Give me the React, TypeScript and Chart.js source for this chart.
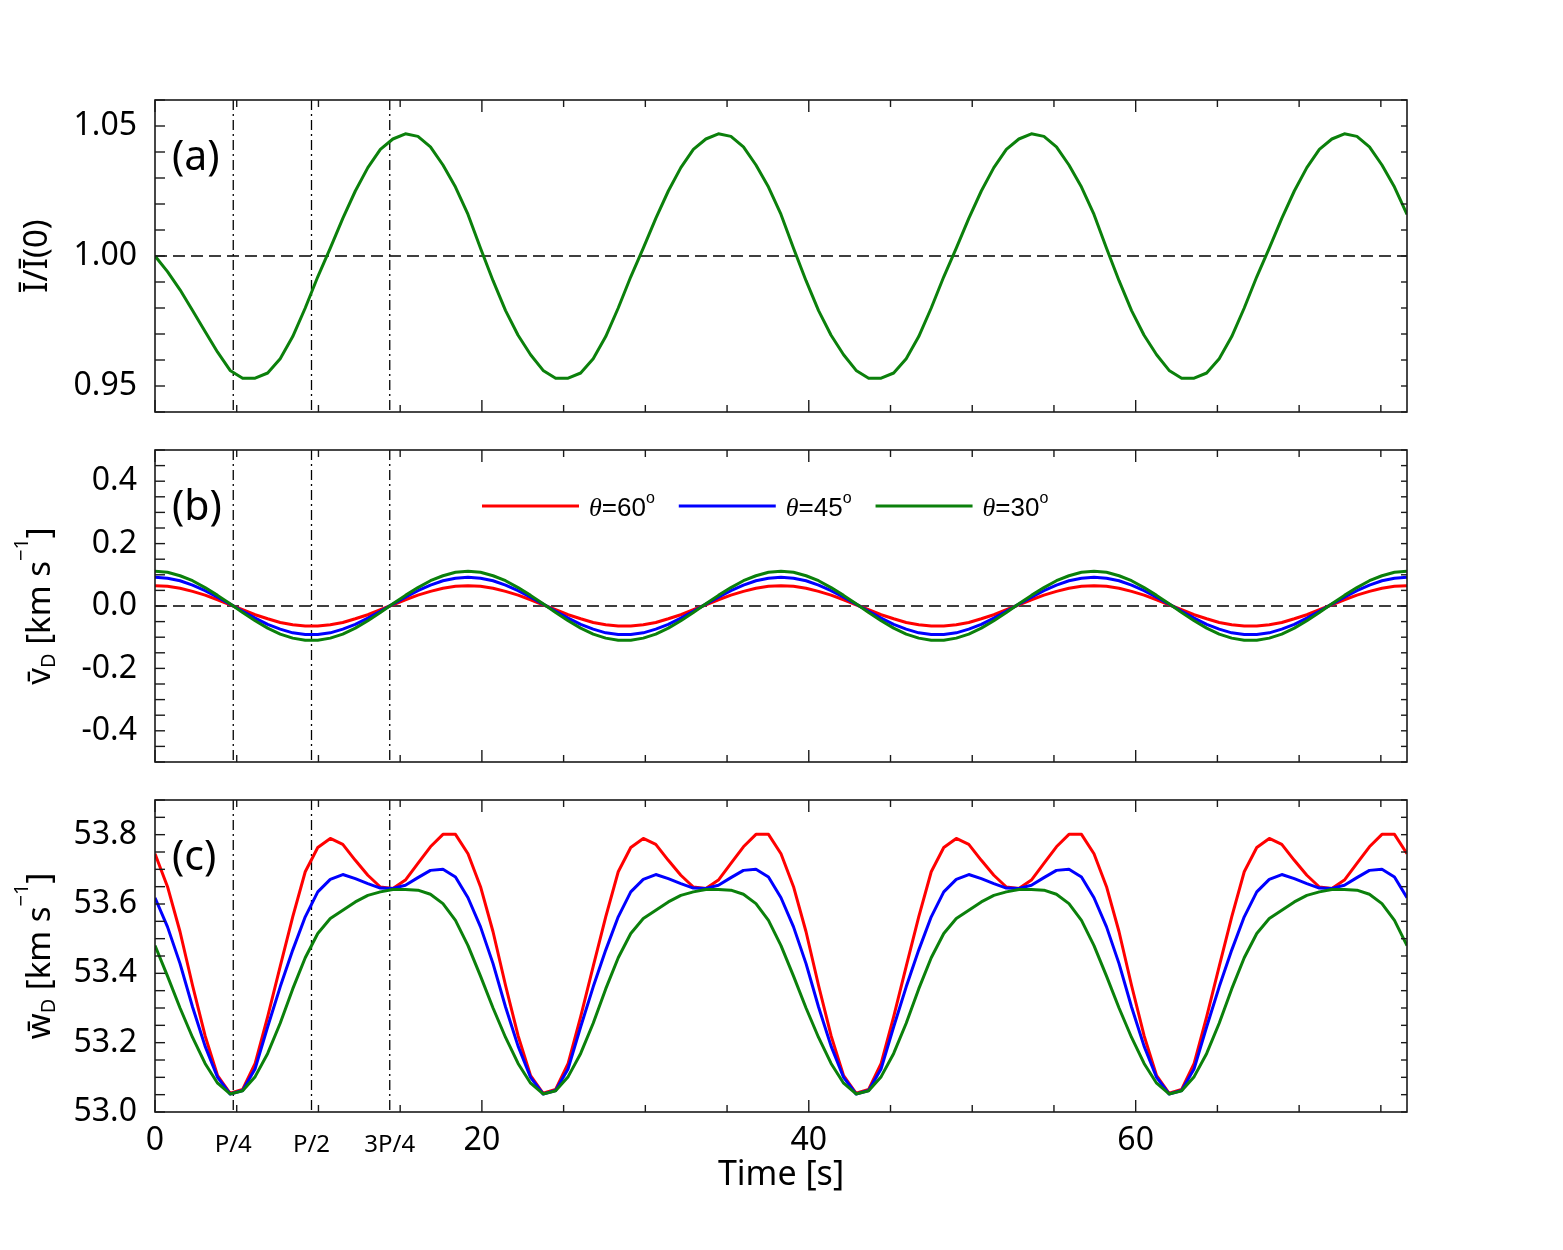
import { useEffect, useRef } from 'react';
import { Chart, registerables } from 'chart.js';
import type { Plugin } from 'chart.js';

Chart.register(...registerables);

// Oscillation period P [s]; the simulation output is sampled 25 times per period
const PERIOD = 19.15;
const SAMPLES_PER_PERIOD = 25;
const T_END = 4 * PERIOD;

// (a) normalised intensity  Ī/Ī(0)
const intensityRatio = [
  1.000, 0.994, 0.987, 0.979, 0.971, 0.963, 0.956, 0.953, 0.953, 0.955, 0.9605, 0.969, 0.980, 0.992, 1.003, 1.0145, 1.025, 1.034, 1.041, 1.045, 1.047, 1.046, 1.042, 1.035, 1.0265,
  1.016, 1.003, 0.9905, 0.979, 0.9695, 0.962, 0.956, 0.953, 0.953, 0.955, 0.9605, 0.969, 0.980, 0.992, 1.003, 1.0145, 1.025, 1.034, 1.041, 1.045, 1.047, 1.046, 1.042, 1.035, 1.0265,
  1.016, 1.003, 0.9905, 0.979, 0.9695, 0.962, 0.956, 0.953, 0.953, 0.955, 0.9605, 0.969, 0.980, 0.992, 1.003, 1.0145, 1.025, 1.034, 1.041, 1.045, 1.047, 1.046, 1.042, 1.035, 1.0265,
  1.016, 1.003, 0.9905, 0.979, 0.9695, 0.962, 0.956, 0.953, 0.953, 0.955, 0.9605, 0.969, 0.980, 0.992, 1.003, 1.0145, 1.025, 1.034, 1.041, 1.045, 1.047, 1.046, 1.042, 1.035, 1.0265,
  1.016,
];

// (b) Doppler velocity [km/s] for the three viewing angles
const vDoppler60 = [
  0.065, 0.063, 0.057, 0.047, 0.035, 0.020, 0.004, -0.012, -0.028, -0.041, -0.053, -0.060, -0.064, -0.064, -0.060, -0.053, -0.041, -0.028, -0.012, 0.004, 0.020, 0.035, 0.047, 0.057, 0.063,
  0.065, 0.063, 0.057, 0.047, 0.035, 0.020, 0.004, -0.012, -0.028, -0.041, -0.053, -0.060, -0.064, -0.064, -0.060, -0.053, -0.041, -0.028, -0.012, 0.004, 0.020, 0.035, 0.047, 0.057, 0.063,
  0.065, 0.063, 0.057, 0.047, 0.035, 0.020, 0.004, -0.012, -0.028, -0.041, -0.053, -0.060, -0.064, -0.064, -0.060, -0.053, -0.041, -0.028, -0.012, 0.004, 0.020, 0.035, 0.047, 0.057, 0.063,
  0.065, 0.063, 0.057, 0.047, 0.035, 0.020, 0.004, -0.012, -0.028, -0.041, -0.053, -0.060, -0.064, -0.064, -0.060, -0.053, -0.041, -0.028, -0.012, 0.004, 0.020, 0.035, 0.047, 0.057, 0.063,
  0.065,
];
const vDoppler45 = [
  0.092, 0.089, 0.081, 0.067, 0.049, 0.028, 0.006, -0.017, -0.039, -0.059, -0.074, -0.086, -0.091, -0.091, -0.086, -0.074, -0.059, -0.039, -0.017, 0.006, 0.028, 0.049, 0.067, 0.081, 0.089,
  0.092, 0.089, 0.081, 0.067, 0.049, 0.028, 0.006, -0.017, -0.039, -0.059, -0.074, -0.086, -0.091, -0.091, -0.086, -0.074, -0.059, -0.039, -0.017, 0.006, 0.028, 0.049, 0.067, 0.081, 0.089,
  0.092, 0.089, 0.081, 0.067, 0.049, 0.028, 0.006, -0.017, -0.039, -0.059, -0.074, -0.086, -0.091, -0.091, -0.086, -0.074, -0.059, -0.039, -0.017, 0.006, 0.028, 0.049, 0.067, 0.081, 0.089,
  0.092, 0.089, 0.081, 0.067, 0.049, 0.028, 0.006, -0.017, -0.039, -0.059, -0.074, -0.086, -0.091, -0.091, -0.086, -0.074, -0.059, -0.039, -0.017, 0.006, 0.028, 0.049, 0.067, 0.081, 0.089,
  0.092,
];
const vDoppler30 = [
  0.111, 0.108, 0.097, 0.081, 0.059, 0.034, 0.007, -0.021, -0.047, -0.071, -0.090, -0.103, -0.110, -0.110, -0.103, -0.090, -0.071, -0.047, -0.021, 0.007, 0.034, 0.059, 0.081, 0.097, 0.108,
  0.111, 0.108, 0.097, 0.081, 0.059, 0.034, 0.007, -0.021, -0.047, -0.071, -0.090, -0.103, -0.110, -0.110, -0.103, -0.090, -0.071, -0.047, -0.021, 0.007, 0.034, 0.059, 0.081, 0.097, 0.108,
  0.111, 0.108, 0.097, 0.081, 0.059, 0.034, 0.007, -0.021, -0.047, -0.071, -0.090, -0.103, -0.110, -0.110, -0.103, -0.090, -0.071, -0.047, -0.021, 0.007, 0.034, 0.059, 0.081, 0.097, 0.108,
  0.111, 0.108, 0.097, 0.081, 0.059, 0.034, 0.007, -0.021, -0.047, -0.071, -0.090, -0.103, -0.110, -0.110, -0.103, -0.090, -0.071, -0.047, -0.021, 0.007, 0.034, 0.059, 0.081, 0.097, 0.108,
  0.111,
];

// (c) Doppler width [km/s] for the three viewing angles
const wDoppler60 = [
  53.745, 53.650, 53.520, 53.365, 53.220, 53.105, 53.054, 53.065, 53.140, 53.275, 53.420, 53.563, 53.693, 53.763, 53.789, 53.772, 53.726, 53.683, 53.649, 53.645, 53.669, 53.717, 53.765, 53.801, 53.801,
  53.745, 53.650, 53.520, 53.365, 53.220, 53.105, 53.054, 53.065, 53.140, 53.275, 53.420, 53.563, 53.693, 53.763, 53.789, 53.772, 53.726, 53.683, 53.649, 53.645, 53.669, 53.717, 53.765, 53.801, 53.801,
  53.745, 53.650, 53.520, 53.365, 53.220, 53.105, 53.054, 53.065, 53.140, 53.275, 53.420, 53.563, 53.693, 53.763, 53.789, 53.772, 53.726, 53.683, 53.649, 53.645, 53.669, 53.717, 53.765, 53.801, 53.801,
  53.745, 53.650, 53.520, 53.365, 53.220, 53.105, 53.054, 53.065, 53.140, 53.275, 53.420, 53.563, 53.693, 53.763, 53.789, 53.772, 53.726, 53.683, 53.649, 53.645, 53.669, 53.717, 53.765, 53.801, 53.801,
  53.745,
];
const wDoppler45 = [
  53.618, 53.534, 53.428, 53.303, 53.190, 53.100, 53.052, 53.062, 53.125, 53.246, 53.361, 53.467, 53.563, 53.635, 53.671, 53.685, 53.673, 53.659, 53.646, 53.645, 53.654, 53.676, 53.697, 53.700, 53.678,
  53.618, 53.534, 53.428, 53.303, 53.190, 53.100, 53.052, 53.062, 53.125, 53.246, 53.361, 53.467, 53.563, 53.635, 53.671, 53.685, 53.673, 53.659, 53.646, 53.645, 53.654, 53.676, 53.697, 53.700, 53.678,
  53.618, 53.534, 53.428, 53.303, 53.190, 53.100, 53.052, 53.062, 53.125, 53.246, 53.361, 53.467, 53.563, 53.635, 53.671, 53.685, 53.673, 53.659, 53.646, 53.645, 53.654, 53.676, 53.697, 53.700, 53.678,
  53.618, 53.534, 53.428, 53.303, 53.190, 53.100, 53.052, 53.062, 53.125, 53.246, 53.361, 53.467, 53.563, 53.635, 53.671, 53.685, 53.673, 53.659, 53.646, 53.645, 53.654, 53.676, 53.697, 53.700, 53.678,
  53.618,
];
const wDoppler30 = [
  53.480, 53.392, 53.300, 53.215, 53.140, 53.083, 53.052, 53.061, 53.102, 53.169, 53.256, 53.355, 53.445, 53.515, 53.558, 53.582, 53.606, 53.625, 53.635, 53.642, 53.642, 53.640, 53.628, 53.601, 53.553,
  53.480, 53.392, 53.300, 53.215, 53.140, 53.083, 53.052, 53.061, 53.102, 53.169, 53.256, 53.355, 53.445, 53.515, 53.558, 53.582, 53.606, 53.625, 53.635, 53.642, 53.642, 53.640, 53.628, 53.601, 53.553,
  53.480, 53.392, 53.300, 53.215, 53.140, 53.083, 53.052, 53.061, 53.102, 53.169, 53.256, 53.355, 53.445, 53.515, 53.558, 53.582, 53.606, 53.625, 53.635, 53.642, 53.642, 53.640, 53.628, 53.601, 53.553,
  53.480, 53.392, 53.300, 53.215, 53.140, 53.083, 53.052, 53.061, 53.102, 53.169, 53.256, 53.355, 53.445, 53.515, 53.558, 53.582, 53.606, 53.625, 53.635, 53.642, 53.642, 53.640, 53.628, 53.601, 53.553,
  53.480,
];

// sample times of the simulation output [s]
const timeSeconds = intensityRatio.map((_, i) => (i * PERIOD) / SAMPLES_PER_PERIOD);

const angleLabels = ['60', '45', '30'];
const angleColors = ['#ff0000', '#0000ff', '#0b800b'];

const xMajorTicks = [0, 20, 40, 60];
const xMinorStep = 5;
const phaseMarks = [
  { value: PERIOD / 4, label: 'P/4' },
  { value: PERIOD / 2, label: 'P/2' },
  { value: (3 * PERIOD) / 4, label: '3P/4' },
];
const yTicksIntensity = [0.95, 1.0, 1.05];
const yTicksVelocity = [-0.4, -0.2, 0.0, 0.2, 0.4];
const yTicksWidth = [53.0, 53.2, 53.4, 53.6, 53.8];

const SANS = '"Noto Sans", "Open Sans", sans-serif';
const ARIAL = '"Liberation Sans", Arial, sans-serif';
const SERIF = '"Liberation Serif", "DejaVu Serif", serif';

const FIG_W = 1563;
const AXIS_LEFT = 155;
const PAD_RIGHT = 156;

interface TextPiece {
  text: string;
  size: number;
  dy?: number;
  style?: string;
  family?: string;
}

interface Series {
  values: number[];
  color: string;
  angle: string;
}

interface PanelSpec {
  tag: string;
  canvasTop: number;
  canvasHeight: number;
  padTop: number;
  axisHeight: number;
  yMin: number;
  yMax: number;
  yMajor: number[];
  yMinorStep: number;
  decimals: number;
  refLevel: number | null;
  series: Series[];
  yTitle: TextPiece[];
  yTitleBaseline: number;
  legend: boolean;
  bottomAxis: boolean;
}

function drawTextRun(
  ctx: CanvasRenderingContext2D,
  pieces: TextPiece[],
  x: number,
  y: number,
  align: 'left' | 'center',
  rotate = false,
): number {
  ctx.save();
  ctx.translate(x, y);
  if (rotate) ctx.rotate(-Math.PI / 2);
  ctx.fillStyle = '#000';
  ctx.textBaseline = 'alphabetic';
  ctx.textAlign = 'left';
  const fonts = pieces.map((p) => `${p.style ?? 'normal'} ${p.size}px ${p.family ?? SANS}`);
  const widths = pieces.map((p, i) => {
    ctx.font = fonts[i];
    return ctx.measureText(p.text).width;
  });
  const total = widths.reduce((a, b) => a + b, 0);
  let cursor = align === 'center' ? -total / 2 : 0;
  pieces.forEach((p, i) => {
    ctx.font = fonts[i];
    ctx.fillText(p.text, cursor, p.dy ?? 0);
    cursor += widths[i];
  });
  ctx.restore();
  return total;
}

function strokeSegment(ctx: CanvasRenderingContext2D, x1: number, y1: number, x2: number, y2: number) {
  ctx.beginPath();
  ctx.moveTo(x1, y1);
  ctx.lineTo(x2, y2);
  ctx.stroke();
}

function stepValues(min: number, max: number, step: number): number[] {
  const out: number[] = [];
  const first = Math.ceil(min / step - 1e-9);
  const last = Math.floor(max / step + 1e-9);
  for (let k = first; k <= last; k++) out.push(+(k * step).toFixed(6));
  return out;
}

function panelDecorations(spec: PanelSpec): Plugin<'line'> {
  return {
    id: `panelDecorations${spec.tag}`,
    beforeDatasetsDraw(chart) {
      const { ctx, chartArea: a } = chart;
      const xs = chart.scales.x;
      const ys = chart.scales.y;
      ctx.save();
      ctx.strokeStyle = '#000';
      ctx.lineWidth = 1.3;
      if (spec.refLevel !== null) {
        ctx.setLineDash([12, 6]);
        const py = ys.getPixelForValue(spec.refLevel);
        strokeSegment(ctx, a.left, py, a.right, py);
      }
      ctx.setLineDash([10, 4, 2, 4]);
      phaseMarks.forEach((m) => {
        const px = xs.getPixelForValue(m.value);
        strokeSegment(ctx, px, a.top, px, a.bottom);
      });
      ctx.restore();
    },
    afterDatasetsDraw(chart) {
      const { ctx, chartArea: a } = chart;
      const xs = chart.scales.x;
      const ys = chart.scales.y;
      ctx.save();
      ctx.strokeStyle = '#1a1a1a';
      ctx.lineWidth = 1.6;
      ctx.setLineDash([]);
      ctx.strokeRect(a.left, a.top, a.right - a.left, a.bottom - a.top);

      // inward tick marks on all four sides
      ctx.lineWidth = 1.4;
      stepValues(0, T_END, xMinorStep).forEach((v) => {
        const px = xs.getPixelForValue(v);
        const len = xMajorTicks.includes(v) ? 12 : 7;
        strokeSegment(ctx, px, a.bottom, px, a.bottom - len);
        strokeSegment(ctx, px, a.top, px, a.top + len);
      });
      stepValues(spec.yMin, spec.yMax, spec.yMinorStep).forEach((v) => {
        const py = ys.getPixelForValue(v);
        strokeSegment(ctx, a.left, py, a.left + 10, py);
        strokeSegment(ctx, a.right, py, a.right - 6, py);
      });
      ctx.restore();

      // panel tag
      drawTextRun(ctx, [{ text: spec.tag, size: 41 }], a.left + 17, a.top + 70, 'left');

      // vertical axis title
      drawTextRun(ctx, spec.yTitle, spec.yTitleBaseline, (a.top + a.bottom) / 2, 'center', true);

      if (spec.legend) {
        let cursor = a.left + 327;
        const lineY = a.top + 56;
        const textY = a.top + 66;
        spec.series.forEach((s) => {
          ctx.save();
          ctx.strokeStyle = s.color;
          ctx.lineWidth = 3;
          strokeSegment(ctx, cursor, lineY, cursor + 97, lineY);
          ctx.restore();
          cursor += 107;
          const w = drawTextRun(
            ctx,
            [
              { text: 'θ', size: 26, style: 'italic', family: SERIF },
              { text: `=${s.angle}`, size: 26, family: ARIAL },
              { text: 'o', size: 16, dy: -13, family: ARIAL },
            ],
            cursor,
            textY,
            'left',
          );
          cursor += w + 24;
        });
      }

      if (spec.bottomAxis) {
        phaseMarks.forEach((m) => {
          drawTextRun(ctx, [{ text: m.label, size: 24 }], xs.getPixelForValue(m.value), a.bottom + 40, 'center');
        });
        drawTextRun(ctx, [{ text: 'Time [s]', size: 34 }], (a.left + a.right) / 2, a.bottom + 73, 'center');
      }
    },
  };
}

const panels: PanelSpec[] = [
  {
    tag: '(a)',
    canvasTop: 60,
    canvasHeight: 380,
    padTop: 40,
    axisHeight: 28,
    yMin: 0.94,
    yMax: 1.06,
    yMajor: yTicksIntensity,
    yMinorStep: 0.01,
    decimals: 2,
    refLevel: 1.0,
    series: [{ values: intensityRatio, color: angleColors[2], angle: angleLabels[2] }],
    yTitle: [{ text: 'Ī/Ī(0)', size: 33 }],
    yTitleBaseline: 47,
    legend: false,
    bottomAxis: false,
  },
  {
    tag: '(b)',
    canvasTop: 440,
    canvasHeight: 350,
    padTop: 10,
    axisHeight: 28,
    yMin: -0.5,
    yMax: 0.5,
    yMajor: yTicksVelocity,
    yMinorStep: 0.05,
    decimals: 1,
    refLevel: 0,
    series: [
      { values: vDoppler60, color: angleColors[0], angle: angleLabels[0] },
      { values: vDoppler45, color: angleColors[1], angle: angleLabels[1] },
      { values: vDoppler30, color: angleColors[2], angle: angleLabels[2] },
    ],
    yTitle: [
      { text: 'v\u0304', size: 33 },
      { text: 'D', size: 20, dy: 5 },
      { text: ' [km s', size: 33 },
      { text: '\u22121', size: 20, dy: -22 },
      { text: ']', size: 33 },
    ],
    yTitleBaseline: 50,
    legend: true,
    bottomAxis: false,
  },
  {
    tag: '(c)',
    canvasTop: 790,
    canvasHeight: 460,
    padTop: 10,
    axisHeight: 138,
    yMin: 53.0,
    yMax: 53.9,
    yMajor: yTicksWidth,
    yMinorStep: 0.05,
    decimals: 1,
    refLevel: null,
    series: [
      { values: wDoppler60, color: angleColors[0], angle: angleLabels[0] },
      { values: wDoppler45, color: angleColors[1], angle: angleLabels[1] },
      { values: wDoppler30, color: angleColors[2], angle: angleLabels[2] },
    ],
    yTitle: [
      { text: 'w\u0304', size: 33 },
      { text: 'D', size: 20, dy: 5 },
      { text: ' [km s', size: 33 },
      { text: '\u22121', size: 20, dy: -22 },
      { text: ']', size: 33 },
    ],
    yTitleBaseline: 50,
    legend: false,
    bottomAxis: true,
  },
];

function Panel({ spec }: { spec: PanelSpec }) {
  const canvasRef = useRef<HTMLCanvasElement | null>(null);

  useEffect(() => {
    const canvas = canvasRef.current;
    if (!canvas) return;
    const n = spec.series.length;
    const chart = new Chart(canvas, {
      type: 'line',
      data: {
        datasets: spec.series.map((s, k) => ({
          label: `θ=${s.angle}°`,
          data: s.values.map((v, i) => ({ x: timeSeconds[i], y: v })),
          borderColor: s.color,
          backgroundColor: s.color,
          borderWidth: 3,
          borderJoinStyle: 'round' as const,
          pointRadius: 0,
          tension: 0,
          fill: false,
          order: n - k,
        })),
      },
      plugins: [panelDecorations(spec)],
      options: {
        animation: false,
        responsive: false,
        devicePixelRatio: 1,
        layout: { padding: { top: spec.padTop, right: PAD_RIGHT, left: 0, bottom: 0 } },
        plugins: {
          legend: { display: false },
          tooltip: { enabled: false },
          title: { display: false },
        },
        scales: {
          x: {
            type: 'linear',
            min: 0,
            max: T_END,
            grid: { display: false, drawTicks: false },
            border: { display: false },
            ticks: {
              display: spec.bottomAxis,
              autoSkip: false,
              maxRotation: 0,
              padding: 10,
              color: '#000',
              font: { family: SANS, size: 32 },
              callback: (v) => String(v),
            },
            afterBuildTicks: (scale) => {
              scale.ticks = xMajorTicks.map((value) => ({ value }));
            },
            afterFit: (scale) => {
              scale.height = spec.axisHeight;
              scale.paddingLeft = 0;
              scale.paddingRight = 0;
            },
          },
          y: {
            type: 'linear',
            min: spec.yMin,
            max: spec.yMax,
            grid: { display: false, drawTicks: false },
            border: { display: false },
            ticks: {
              autoSkip: false,
              padding: 18,
              color: '#000',
              font: { family: SANS, size: 32 },
              callback: (v) => Number(v).toFixed(spec.decimals),
            },
            afterBuildTicks: (scale) => {
              scale.ticks = spec.yMajor.map((value) => ({ value }));
            },
            afterFit: (scale) => {
              scale.width = AXIS_LEFT;
              scale.paddingTop = 0;
              scale.paddingBottom = 0;
            },
          },
        },
      },
    });
    return () => chart.destroy();
  }, [spec]);

  return (
    <canvas
      ref={canvasRef}
      width={FIG_W}
      height={spec.canvasHeight}
      style={{ position: 'absolute', left: 0, top: spec.canvasTop, width: FIG_W, height: spec.canvasHeight }}
    />
  );
}

export default function App() {
  return (
    <div style={{ position: 'absolute', left: 0, top: 0, width: FIG_W, height: 1250, background: '#fff' }}>
      {panels.map((p) => (
        <Panel key={p.tag} spec={p} />
      ))}
    </div>
  );
}
